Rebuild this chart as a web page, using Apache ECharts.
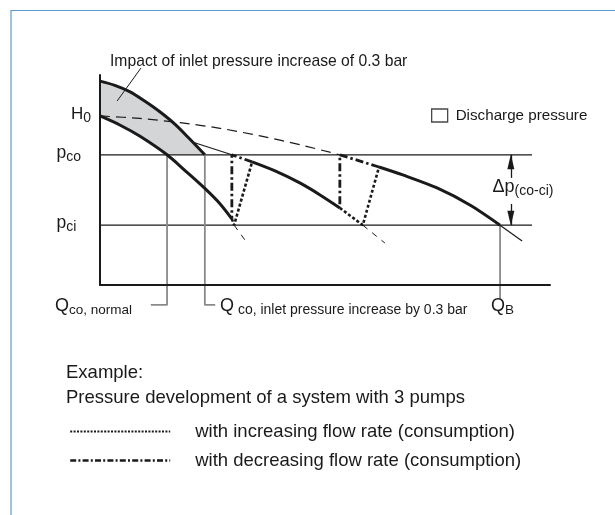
<!DOCTYPE html>
<html>
<head>
<meta charset="utf-8">
<script src="https://cdn.jsdelivr.net/npm/echarts@6/dist/echarts.min.js"></script>
<style>
  html, body { margin: 0; padding: 0; background: #fff; }
  #chart { width: 615px; height: 515px; }
</style>
</head>
<body>
<div id="chart"></div>
<script>
// Relative flow Q (x) and head H (y), both on a 0..100 scale.
const H0 = 80.5;
const P_CO = 62;     // cut-out pressure
const P_CI = 28.5;   // cut-in pressure
const LINE_END = 96; // right end of the pressure lines

// Single pump, inlet pressure raised by 0.3 bar
const curveRaised = [[0, 97.1], [3.3, 95.1], [6.7, 92], [10, 87.5], [13.3, 82.5], [16.7, 76.5], [20, 69.4], [23.3, 62]];
// Single pump, normal inlet pressure
const curve1 = [[0, 80.5], [4.4, 76.2], [8.9, 70.8], [14.9, 62], [18.9, 54.5], [23.3, 46], [26.7, 38.6], [29.3, 31.5]];
const curve1Tail = [[29.8, 28.5], [32.7, 20]];
// Two pumps
const curve2Head = [[20.7, 68], [29.3, 62]];
const curve2 = [[33.8, 58.6], [38.9, 54.3], [44.4, 48.6], [48.9, 42.9], [53.3, 36.7]];
const curve2Tail = [[58.4, 28.5], [63.3, 20]];
// Three pumps
const curve3Head = [[0, 80.5], [8.9, 79.3], [17.8, 77.3], [26.7, 74.6], [35.6, 71], [44.4, 66.8], [53.3, 62]];
const curve3 = [[62, 56.2], [67.3, 52.4], [74.9, 46.2], [82.2, 38.1], [88.9, 28.5]];
const curve3Tail = [[88.9, 28.5], [93.8, 21]];

// Switching paths: pump cut-in (rising demand) and cut-out (falling demand)
const increasingSteps = [
  [[29.3, 31.5], [29.8, 28.5], [33.8, 58.6]],
  [[53.3, 36.7], [58.4, 28.5], [62, 56.2]]
];
const decreasingSteps = [
  [[33.8, 58.6], [29.3, 62], [29.3, 31.5]],
  [[62, 56.2], [53.3, 62], [53.3, 36.7]]
];

// Flow markers dropped to the labels under the axis
const Q_NORMAL = 14.9;
const Q_RAISED = 23.3;
const Q_B = 88.9;
const LEADER_Y = -9.5;
const LEADER_Y_B = -6.5;
const markerNormal = [[Q_NORMAL, P_CO], [Q_NORMAL, LEADER_Y], [11.3, LEADER_Y]];
const markerRaised = [[Q_RAISED, P_CO], [Q_RAISED, LEADER_Y], [25.6, LEADER_Y]];
const markerB = [[Q_B, P_CI], [Q_B, LEADER_Y_B]];
const impactLeader = [[9.1, 103.3], [3.8, 87.6]];
const DELTA_X = 91.3;
const deltaArrows = [[51, P_CO], [38.6, P_CI]];

const LEG_UP = 'with increasing flow rate (consumption)';
const LEG_DOWN = 'with decreasing flow rate (consumption)';
const LEG_BAND = 'Discharge pressure';

const FONT = '"Liberation Sans", Arial, Helvetica, sans-serif';
const INK = '#1a1a1a';
const GREY = '#8a8a8a';
const FILL = '#d4d5d7';

const HEAVY = 3;
const DASH_DOT = [8, 3, 2.5, 3];
const DOTTED = [3, 2.2];
const SMOOTH = 0.3;

const chart = echarts.init(document.getElementById('chart'), null, { renderer: 'canvas' });

function line(name, data, style, extra) {
  return Object.assign({
    name: name,
    type: 'line',
    data: data,
    symbol: 'none',
    showSymbol: false,
    smooth: 0,
    clip: false,
    silent: true,
    z: 3,
    lineStyle: Object.assign({ color: INK, width: 1.2, type: 'solid' }, style)
  }, extra || {});
}

// Shaded band between the raised and the normal curve, closed along p_co
const bandOutline = curveRaised
  .concat(curve1.filter(function (p) { return p[0] <= Q_NORMAL; }).reverse());

const series = [
  {
    name: 'band',
    type: 'custom',
    data: [0],
    silent: true,
    z: 1,
    renderItem: function (params, api) {
      const pts = bandOutline.map(function (p) { return api.coord(p); });
      return { type: 'polygon', shape: { points: pts }, style: { fill: FILL, stroke: 'none' } };
    }
  },
  { name: LEG_BAND, type: 'scatter', data: [], itemStyle: { color: '#fff', borderColor: INK, borderWidth: 1.3 } },

  line('p_co', [[0, P_CO], [LINE_END, P_CO]], { width: 1.3 }, {
    z: 2,
    markLine: {
      silent: true,
      symbol: ['none', 'triangle'],
      symbolSize: [7, 15],
      symbolOffset: [[0, 0], [0, 7]],
      label: { show: false },
      lineStyle: { color: INK, width: 1.3, type: 'solid' },
      data: deltaArrows.map(function (a) { return [{ coord: [DELTA_X, a[0]] }, { coord: [DELTA_X, a[1]] }]; })
    }
  }),
  line('p_ci', [[0, P_CI], [LINE_END, P_CI]], { width: 1.3 }, { z: 2 }),

  line('Q marker normal', markerNormal, { color: GREY, width: 1.8 }, { z: 2 }),
  line('Q marker raised', markerRaised, { color: GREY, width: 1.8 }, { z: 2 }),
  line('Q marker B', markerB, { color: GREY, width: 1.8 }, { z: 2 }),
  line('impact leader', impactLeader, { width: 1 }),

  line('raised', curveRaised, { width: HEAVY }, { smooth: SMOOTH }),
  line('one pump', curve1, { width: HEAVY }, { smooth: SMOOTH }),
  line('one pump tail', curve1Tail, { width: 1, type: [6, 6] }),
  line('two pumps head', curve2Head, { width: 1.2 }),
  line('two pumps', curve2, { width: HEAVY }, { smooth: SMOOTH }),
  line('two pumps tail', curve2Tail, { width: 1, type: [6, 6] }),
  line('three pumps head', curve3Head, { width: 1.2, type: [10, 6] }, { smooth: SMOOTH }),
  line('three pumps', curve3, { width: HEAVY }, { smooth: SMOOTH }),
  line('three pumps tail', curve3Tail, { width: 1.2 })
];
increasingSteps.forEach(function (d) { series.push(line(LEG_UP, d, { width: 2.6, type: DOTTED }, { z: 4 })); });
decreasingSteps.forEach(function (d) { series.push(line(LEG_DOWN, d, { width: 2.8, type: DASH_DOT }, { z: 4 })); });

// Text with a subscript part
function subText(x, y, main, subs, mainSize, subSize) {
  return {
    type: 'text', x: x, y: y, silent: true, z: 10,
    style: {
      text: '{m|' + main + '}{s|' + subs + '}',
      align: 'left', verticalAlign: 'middle',
      rich: {
        m: { fontSize: mainSize, fontFamily: FONT, fill: INK, lineHeight: mainSize + 5 },
        s: { fontSize: subSize, fontFamily: FONT, fill: INK, lineHeight: subSize, verticalAlign: 'bottom' }
      }
    }
  };
}
function plainText(x, y, text, size) {
  return {
    type: 'text', x: x, y: y, silent: true, z: 10,
    style: { text: text, fontSize: size, fontFamily: FONT, fill: INK, align: 'left', verticalAlign: 'middle' }
  };
}

const graphics = [
  { type: 'polyline', silent: true, z: 0, shape: { points: [[11, 515], [11, 10.5], [615, 10.5]] },
    style: { stroke: '#5b9bd5', lineWidth: 1.2, fill: 'none' } },
  plainText(110, 62, 'Impact of inlet pressure increase of 0.3 bar', 15.7),
  subText(71, 114, 'H', '0', 17, 14),
  subText(56.5, 153, 'p', 'co', 17.5, 14),
  subText(56.5, 223, 'p', 'ci', 17.5, 14),
  subText(492.5, 187, '\u0394p', '(co-ci)', 18, 14),
  subText(55, 306, 'Q', 'co, normal', 18, 13.5),
  subText(220, 306, 'Q', ' co, inlet pressure increase by 0.3 bar', 18, 14),
  subText(491, 306, 'Q', 'B', 18, 13.5),
  plainText(66, 373, 'Example:', 18.5),
  plainText(66, 398, 'Pressure development of a system with 3 pumps', 18.5)
];

const axisCommon = {
  type: 'value', min: 0, max: 100, z: 5,
  axisLine: { show: true, onZero: false, lineStyle: { color: INK, width: 2 } },
  axisTick: { show: false }, axisLabel: { show: false }, splitLine: { show: false }
};

chart.setOption({
  animation: false,
  backgroundColor: '#fff',
  grid: { left: 100, top: 75, width: 450, height: 210 },
  xAxis: axisCommon,
  yAxis: axisCommon,
  legend: [
    {
      left: 431, top: 108, padding: 0, itemWidth: 16, itemHeight: 13, selectedMode: false, icon: 'rect',
      textStyle: { fontFamily: FONT, fontSize: 15.2, color: INK, padding: [0, 0, 0, 3] },
      data: [{ name: LEG_BAND, itemStyle: { color: '#fff', borderColor: INK, borderWidth: 1.3 } }]
    },
    {
      orient: 'vertical', left: 69, top: 422, padding: 0, itemWidth: 100, itemHeight: 18, itemGap: 10,
      selectedMode: false,
      textStyle: { fontFamily: FONT, fontSize: 18.5, color: INK, padding: [0, 0, 0, 20] },
      data: [
        { name: LEG_UP, itemStyle: { opacity: 0 }, lineStyle: { type: [2, 1.4], width: 2, color: INK } },
        { name: LEG_DOWN, itemStyle: { opacity: 0 }, lineStyle: { type: [6, 2.2, 2, 2.2], width: 2.4, color: INK } }
      ]
    }
  ],
  series: series,
  graphic: graphics
});
</script>
</body>
</html>
